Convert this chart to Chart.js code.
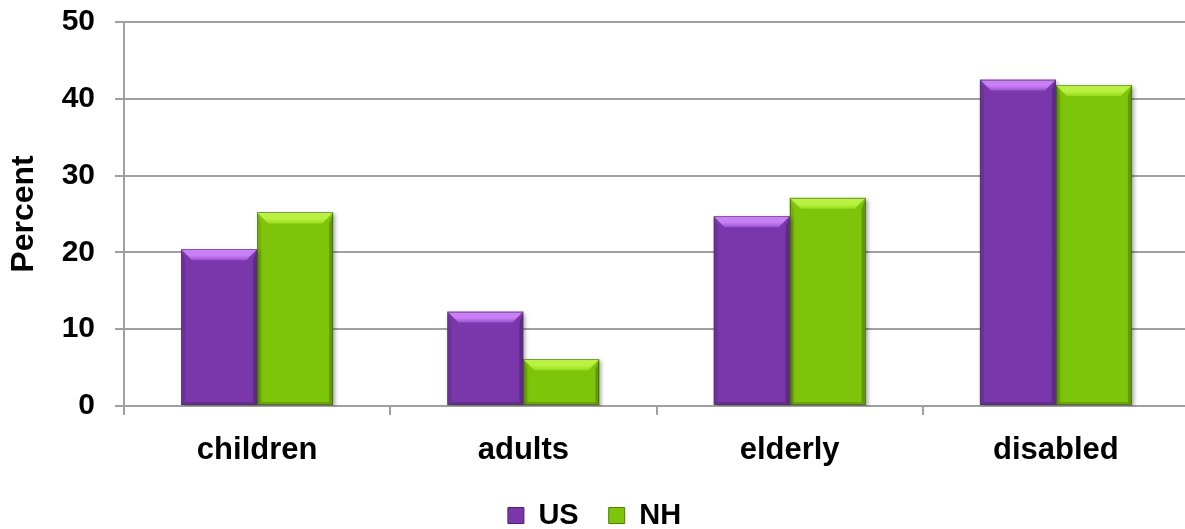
<!DOCTYPE html>
<html>
<head>
<meta charset="utf-8">
<script src="https://cdn.jsdelivr.net/npm/chart.js@4.4.1/dist/chart.umd.min.js"></script>
<style>
  html, body { margin: 0; padding: 0; background: #ffffff; overflow: hidden; }
  #wrap { width: 1190px; height: 529px; }
</style>
</head>
<body>
<div id="wrap"><canvas id="chart" width="1190" height="529"></canvas></div>
<script>
// Share of population by group, US vs NH (percent)
const categories = ['children', 'adults', 'elderly', 'disabled'];
const usValues = [20.4, 12.3, 24.7, 42.5];
const nhValues = [25.2, 6.1, 27.1, 41.8];
const seriesNames = ['US', 'NH'];
const yTickLabels = [0, 10, 20, 30, 40, 50];

const FONT = "'Liberation Sans', Arial, Helvetica, sans-serif";
const GRID = '#a0a0a0';

const palette = {
  US: { body: '#7a36ab', light: '#c97ff5', mid: '#9a52d0', dark: '#4e1f72' },
  NH: { body: '#7ec40b', light: '#baf244', mid: '#98dc1c', dark: '#4f7f05' }
};

// Soft drop shadow under the bars while the library paints them
const shadowPlugin = {
  id: 'barShadow',
  beforeDatasetsDraw(chart) {
    const ctx = chart.ctx;
    ctx.save();
    ctx.shadowColor = 'rgba(0,0,0,0.35)';
    ctx.shadowBlur = 4;
    ctx.shadowOffsetX = 2;
    ctx.shadowOffsetY = 2;
  },
  afterDatasetsDraw(chart) {
    chart.ctx.restore();
  }
};

// Bevelled look: light top band, darker sides and bottom edge
const bevelPlugin = {
  id: 'bevel',
  afterDatasetsDraw(chart) {
    const ctx = chart.ctx;
    chart.data.datasets.forEach((ds, di) => {
      const pal = palette[ds.label];
      chart.getDatasetMeta(di).data.forEach(el => {
        const p = el.getProps(['x', 'y', 'base', 'width'], true);
        const l = p.x - p.width / 2, r = p.x + p.width / 2;
        const t = p.y, b = p.base;
        const bt = 11, bs = 4, bb = 3;
        ctx.save();
        // top band
        const g = ctx.createLinearGradient(0, t, 0, t + bt);
        g.addColorStop(0, pal.light);
        g.addColorStop(0.55, pal.light);
        g.addColorStop(1, pal.mid);
        ctx.fillStyle = g;
        ctx.beginPath();
        ctx.moveTo(l, t); ctx.lineTo(r, t);
        ctx.lineTo(r - bt, t + bt); ctx.lineTo(l + bt, t + bt);
        ctx.closePath(); ctx.fill();
        // left side
        ctx.fillStyle = 'rgba(0,0,0,0.10)';
        ctx.beginPath();
        ctx.moveTo(l, t); ctx.lineTo(l + bs, t + bt);
        ctx.lineTo(l + bs, b - bb); ctx.lineTo(l, b);
        ctx.closePath(); ctx.fill();
        // right side
        ctx.fillStyle = 'rgba(0,0,0,0.22)';
        ctx.beginPath();
        ctx.moveTo(r, t); ctx.lineTo(r - bs, t + bt);
        ctx.lineTo(r - bs, b - bb); ctx.lineTo(r, b);
        ctx.closePath(); ctx.fill();
        // bottom edge
        ctx.fillStyle = 'rgba(0,0,0,0.15)';
        ctx.beginPath();
        ctx.moveTo(l, b); ctx.lineTo(l + bs, b - bb);
        ctx.lineTo(r - bs, b - bb); ctx.lineTo(r, b);
        ctx.closePath(); ctx.fill();
        // fine outline
        ctx.strokeStyle = 'rgba(60,60,60,0.45)';
        ctx.lineWidth = 1;
        ctx.strokeRect(Math.round(l) + 0.5, Math.round(t) + 0.5, Math.round(r - l) - 1, Math.round(b - t) - 1);
        ctx.restore();
      });
    });
  }
};

// Legend row sits a little lower; category labels get room to draw unclipped
const layoutTweak = {
  id: 'layoutTweak',
  afterLayout(chart) {
    if (chart.legend) {
      chart.legend.top += 11;
      chart.legend.bottom += 11;
    }
    chart.scales.x.bottom += 20;
  }
};

new Chart(document.getElementById('chart'), {
  type: 'bar',
  data: {
    labels: categories,
    datasets: [
      { label: seriesNames[0], data: usValues, backgroundColor: palette.US.body, borderWidth: 0 },
      { label: seriesNames[1], data: nhValues, backgroundColor: palette.NH.body, borderWidth: 0 }
    ]
  },
  options: {
    responsive: false,
    animation: false,
    layout: { padding: { top: 22, right: 1, left: 0, bottom: 0 } },
    datasets: { bar: { categoryPercentage: 0.571, barPercentage: 1.0 } },
    scales: {
      x: {
        grid: { offset: true, drawOnChartArea: false, drawTicks: true, tickLength: 9, color: GRID, lineWidth: 2 },
        border: { color: GRID, width: 2 },
        ticks: { color: '#000', padding: 17, font: { family: FONT, size: 31, weight: 'bold' } },
        afterFit(scale) { scale.height = 54; }
      },
      y: {
        min: 0, max: 50,
        grid: {
          color: GRID, lineWidth: 2, drawTicks: true, tickLength: 9,
          tickColor: c => (c.tick && c.tick.value % 10 === 0) ? GRID : 'rgba(0,0,0,0)'
        },
        border: { color: GRID, width: 2 },
        ticks: {
          stepSize: 5, padding: 20, color: '#000',
          font: { family: FONT, size: 30, weight: 'bold' },
          callback: v => yTickLabels.includes(v) ? String(v) : ''
        },
        title: {
          display: true, text: 'Percent', color: '#000',
          padding: { top: 5, bottom: 0 },
          font: { family: FONT, size: 32, weight: 'bold' }
        },
        afterFit(scale) {
          scale.width = 124;
          scale.paddingTop = 0;
          scale.paddingBottom = 0;
        }
      }
    },
    plugins: {
      tooltip: { enabled: false },
      legend: {
        position: 'bottom',
        labels: {
          color: '#000', boxWidth: 16, boxHeight: 16, padding: 30,
          font: { family: FONT, size: 29, weight: 'bold' },
          generateLabels(chart) {
            return Chart.defaults.plugins.legend.labels.generateLabels(chart).map((it, i) => {
              const pal = palette[seriesNames[i]];
              it.fillStyle = pal.body;
              it.strokeStyle = pal.dark;
              it.lineWidth = 1;
              return it;
            });
          }
        }
      }
    }
  },
  plugins: [shadowPlugin, bevelPlugin, layoutTweak]
});
</script>
</body>
</html>
